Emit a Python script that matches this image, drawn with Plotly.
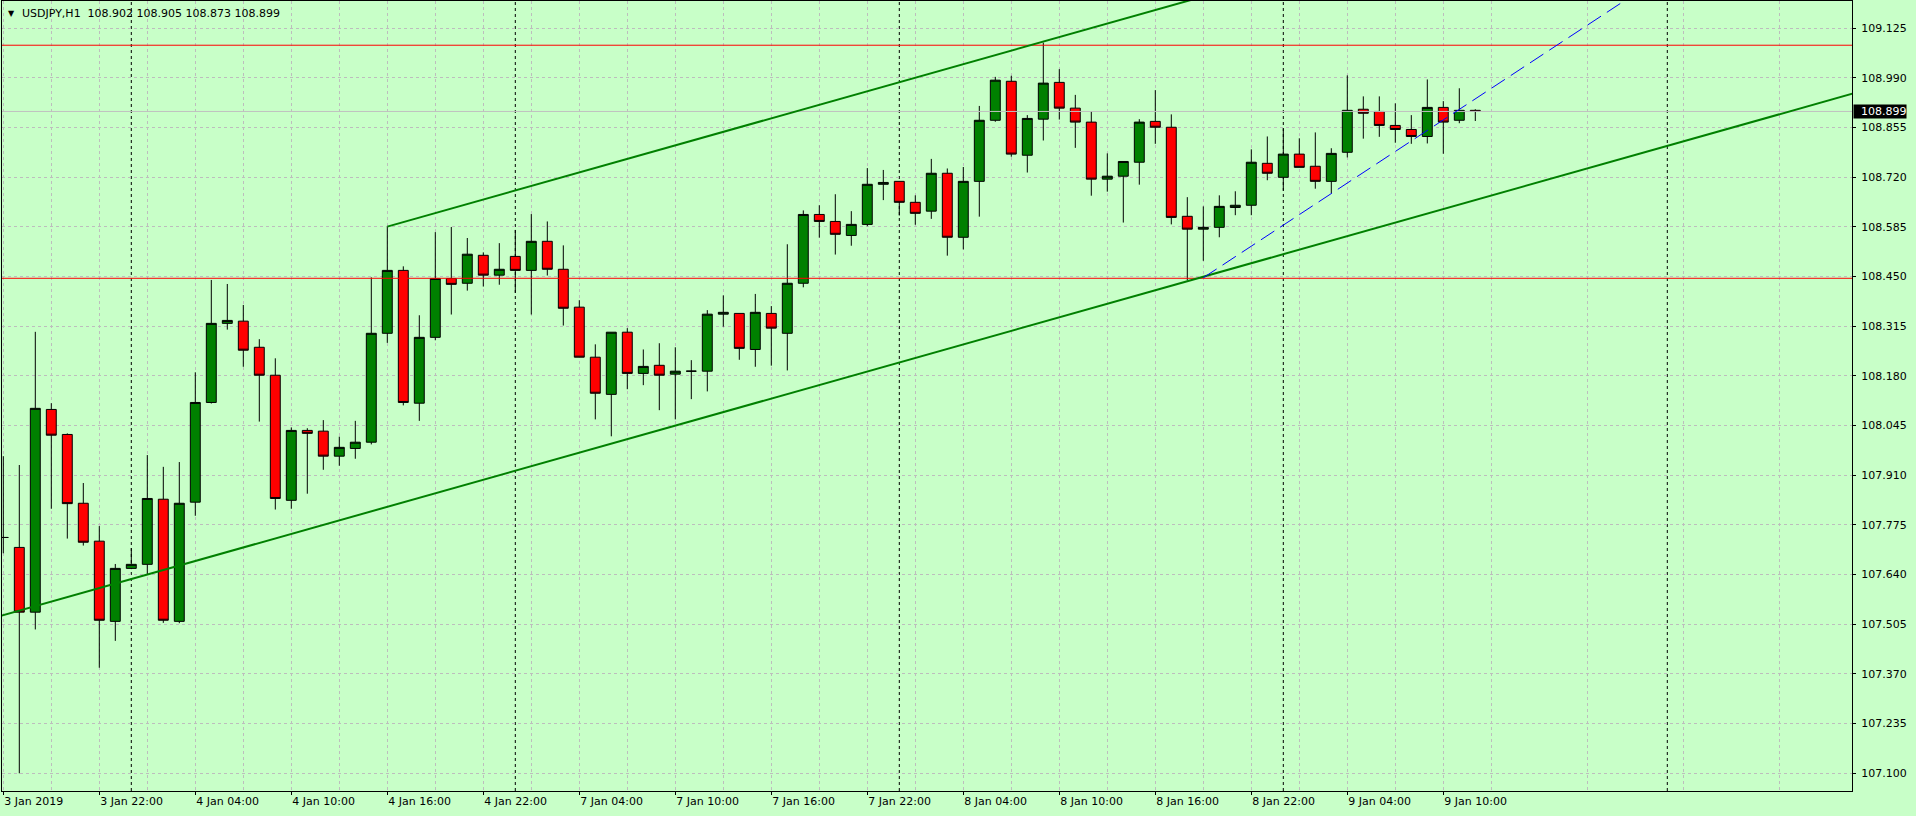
import plotly.graph_objects as go

# ---------------- data ----------------
SYMBOL = "USDJPY,H1"

BARS = list(range(93))  # hourly bars, bar 0 = 3 Jan 2019 16:00

OPEN = [107.741, 107.714, 107.538, 108.089, 108.021, 107.834, 107.731, 107.513, 107.657, 107.668,
        107.845, 107.513, 107.837, 108.108, 108.323, 108.329, 108.258, 108.182, 107.842, 108.032,
        108.030, 107.962, 107.983, 108.000, 108.296, 108.467, 108.106, 108.285, 108.445, 108.432,
        108.508, 108.454, 108.505, 108.467, 108.546, 108.470, 108.367, 108.231, 108.130, 108.299,
        108.187, 108.209, 108.185, 108.193, 108.193, 108.348, 108.350, 108.252, 108.350, 108.296,
        108.432, 108.619, 108.600, 108.562, 108.592, 108.701, 108.709, 108.652, 108.628, 108.731,
        108.557, 108.709, 108.875, 108.981, 108.780, 108.878, 108.978, 108.908, 108.870, 108.715,
        108.723, 108.761, 108.872, 108.856, 108.614, 108.579, 108.584, 108.638, 108.644, 108.758,
        108.720, 108.783, 108.750, 108.709, 108.788, 108.905, 108.899, 108.861, 108.850, 108.831,
        108.910, 108.875, 108.902]
HIGH = [107.962, 107.938, 108.300, 108.106, 108.024, 107.889, 107.772, 107.669, 107.712, 107.965,
        107.933, 107.946, 108.190, 108.441, 108.430, 108.373, 108.280, 108.228, 108.040, 108.038,
        108.060, 108.015, 108.058, 108.448, 108.586, 108.478, 108.345, 108.571, 108.585, 108.555,
        108.516, 108.541, 108.577, 108.620, 108.600, 108.535, 108.386, 108.266, 108.299, 108.310,
        108.252, 108.269, 108.258, 108.223, 108.359, 108.399, 108.350, 108.403, 108.370, 108.538,
        108.630, 108.644, 108.674, 108.628, 108.745, 108.740, 108.709, 108.671, 108.770, 108.744,
        108.748, 108.914, 108.993, 108.996, 108.889, 109.086, 109.014, 108.944, 108.900, 108.785,
        108.763, 108.878, 108.957, 108.891, 108.666, 108.641, 108.671, 108.682, 108.796, 108.831,
        108.853, 108.826, 108.842, 108.799, 108.997, 108.940, 108.940, 108.921, 108.889, 108.986,
        108.927, 108.962, 108.905]
LOW = [107.698, 107.100, 107.491, 107.819, 107.738, 107.719, 107.387, 107.460, 107.655, 107.639,
       107.509, 107.508, 107.800, 108.105, 108.306, 108.205, 108.056, 107.817, 107.819, 107.860,
       107.925, 107.936, 107.955, 107.994, 108.270, 108.100, 108.058, 108.277, 108.347, 108.412,
       108.423, 108.428, 108.406, 108.347, 108.453, 108.317, 108.231, 108.062, 108.016, 108.144,
       108.155, 108.087, 108.062, 108.117, 108.138, 108.314, 108.224, 108.205, 108.208, 108.195,
       108.421, 108.556, 108.510, 108.534, 108.587, 108.658, 108.616, 108.591, 108.607, 108.507,
       108.524, 108.613, 108.871, 108.776, 108.733, 108.820, 108.877, 108.800, 108.670, 108.681,
       108.597, 108.700, 108.811, 108.592, 108.440, 108.493, 108.557, 108.617, 108.617, 108.712,
       108.684, 108.747, 108.689, 108.677, 108.774, 108.825, 108.830, 108.814, 108.811, 108.812,
       108.784, 108.867, 108.873]
CLOSE = [107.741, 107.538, 108.092, 108.019, 107.833, 107.728, 107.516, 107.657, 107.668, 107.847,
         107.516, 107.834, 108.108, 108.323, 108.331, 108.250, 108.182, 107.847, 108.032, 108.024,
         107.962, 107.986, 108.000, 108.296, 108.467, 108.108, 108.285, 108.445, 108.429, 108.511,
         108.454, 108.470, 108.467, 108.546, 108.470, 108.364, 108.231, 108.133, 108.299, 108.187,
         108.206, 108.182, 108.193, 108.193, 108.348, 108.353, 108.255, 108.353, 108.310, 108.432,
         108.619, 108.600, 108.565, 108.592, 108.701, 108.706, 108.652, 108.622, 108.731, 108.557,
         108.709, 108.875, 108.984, 108.783, 108.880, 108.976, 108.908, 108.870, 108.715, 108.723,
         108.763, 108.870, 108.856, 108.611, 108.579, 108.584, 108.641, 108.644, 108.761, 108.731,
         108.783, 108.747, 108.709, 108.785, 108.902, 108.894, 108.861, 108.850, 108.831, 108.910,
         108.870, 108.902, 108.899]

TIME_TICK_BARS = [0, 6, 12, 18, 24, 30, 36, 42, 48, 54, 60, 66, 72, 78, 84, 90]
TIME_TICK_LABELS = ["3 Jan 2019", "3 Jan 22:00", "4 Jan 04:00", "4 Jan 10:00", "4 Jan 16:00",
                    "4 Jan 22:00", "7 Jan 04:00", "7 Jan 10:00", "7 Jan 16:00", "7 Jan 22:00",
                    "8 Jan 04:00", "8 Jan 10:00", "8 Jan 16:00", "8 Jan 22:00", "9 Jan 04:00",
                    "9 Jan 10:00"]
MINOR_GRID_BARS = [3, 9, 15, 21, 27, 33, 39, 45, 51, 57, 63, 69, 75, 81, 87, 93, 99, 105, 111]
DAY_SEPARATOR_BARS = [8, 32, 56, 80, 104]

PRICE_TICK_LABELS = ["107.100", "107.235", "107.370", "107.505", "107.640", "107.775", "107.910",
                     "108.045", "108.180", "108.315", "108.450", "108.585", "108.720", "108.855",
                     "108.990", "109.125"]

SUPPORT_LINE_X = [0, 76]          # lower channel line anchors (bar, price)
SUPPORT_LINE_Y = [107.530, 108.462]
CHANNEL_TOP_START = (24, 108.586)  # upper parallel line start
BLUE_LINE_X = [75, 90]
BLUE_LINE_Y = [108.447, 108.876]
RED_LEVELS = [109.079, 108.4455]
BID_PRICE = 108.899

X_RANGE = [-0.08125, 115.544]
Y_RANGE = [107.0519, 109.1992]

# ---------------- styles ----------------
BG = "#C8FFC8"
GRID = "#BDBDBD"
FONT = "DejaVu Sans"

fig = go.Figure()

fig.add_trace(go.Candlestick(
    x=BARS, open=OPEN, high=HIGH, low=LOW, close=CLOSE,
    increasing=dict(line=dict(color="black", width=1), fillcolor="#008000"),
    decreasing=dict(line=dict(color="black", width=1), fillcolor="#FF0000"),
    whiskerwidth=0, hoverinfo="skip", showlegend=False,
))

X_FAR_LEFT, X_FAR_RIGHT = -2, 120


def ray(xs, ys, x_start, x_end):
    slope = (ys[1] - ys[0]) / (xs[1] - xs[0])
    return [x_start, x_end], [ys[0] + slope * (x_start - xs[0]), ys[0] + slope * (x_end - xs[0])]


# horizontal levels
for lvl in RED_LEVELS:
    fig.add_trace(go.Scatter(x=[X_FAR_LEFT, X_FAR_RIGHT], y=[lvl, lvl], mode="lines",
                             line=dict(color="#FF0000", width=1), hoverinfo="skip", showlegend=False))
fig.add_trace(go.Scatter(x=[X_FAR_LEFT, X_FAR_RIGHT], y=[BID_PRICE, BID_PRICE], mode="lines",
                         line=dict(color="#C0C0C0", width=1), hoverinfo="skip", showlegend=False))

# lower channel line
lx, ly = ray(SUPPORT_LINE_X, SUPPORT_LINE_Y, X_FAR_LEFT, X_FAR_RIGHT)
fig.add_trace(go.Scatter(x=lx, y=ly, mode="lines", line=dict(color="#008000", width=2),
                         hoverinfo="skip", showlegend=False))
# upper parallel line
slope = (SUPPORT_LINE_Y[1] - SUPPORT_LINE_Y[0]) / (SUPPORT_LINE_X[1] - SUPPORT_LINE_X[0])
ux = [CHANNEL_TOP_START[0], X_FAR_RIGHT]
uy = [CHANNEL_TOP_START[1], CHANNEL_TOP_START[1] + slope * (X_FAR_RIGHT - CHANNEL_TOP_START[0])]
fig.add_trace(go.Scatter(x=ux, y=uy, mode="lines", line=dict(color="#008000", width=2),
                         hoverinfo="skip", showlegend=False))
# blue dashed trend line
bx, by = ray(BLUE_LINE_X, BLUE_LINE_Y, BLUE_LINE_X[0], X_FAR_RIGHT)
fig.add_trace(go.Scatter(x=bx, y=by, mode="lines", line=dict(color="#0000FF", width=1, dash="16px,7px"),
                         hoverinfo="skip", showlegend=False))

# day separators
shapes = []
for b in DAY_SEPARATOR_BARS:
    shapes.append(dict(type="line", xref="x", yref="paper", x0=b, x1=b, y0=0, y1=1,
                       line=dict(color="black", width=1, dash="3px,3px"), layer="between"))

annotations = [
    dict(xref="paper", yref="paper", x=0, y=1, xanchor="left", yanchor="top", xshift=4, yshift=-6,
         text="▼", showarrow=False, font=dict(family=FONT, size=8, color="black")),
    dict(xref="paper", yref="paper", x=0, y=1, xanchor="left", yanchor="top", xshift=18, yshift=-4,
         text=f"{SYMBOL}  {OPEN[-1]:.3f} {HIGH[-1]:.3f} {LOW[-1]:.3f} {CLOSE[-1]:.3f}",
         showarrow=False, font=dict(family=FONT, size=11, color="black")),
    dict(xref="paper", yref="y", x=1, y=BID_PRICE, xanchor="left", yanchor="middle", xshift=1,
         text="\u00a0\u00a0" + f"{BID_PRICE:.3f}", showarrow=False, bgcolor="black", borderpad=0,
         font=dict(family=FONT, size=11, color="white")),
]

fig.update_layout(
    width=1916, height=816, autosize=False,
    margin=dict(l=2, r=64, t=1, b=25, pad=0),
    paper_bgcolor=BG, plot_bgcolor=BG,
    showlegend=False, hovermode=False,
    boxgap=0.38, boxgroupgap=0,
    shapes=shapes, annotations=annotations,
    xaxis=dict(
        range=X_RANGE, tickmode="array", tickvals=TIME_TICK_BARS, ticktext=TIME_TICK_LABELS,
        ticks="outside", ticklen=3, tickcolor="black", tickwidth=1,
        ticklabelposition="outside right",
        showline=True, linecolor="black", linewidth=1, mirror=True,
        showgrid=True, gridcolor=GRID, gridwidth=1, griddash="3px,3px",
        minor=dict(tickvals=MINOR_GRID_BARS, showgrid=True, gridcolor=GRID, gridwidth=1,
                   griddash="3px,3px", ticks=""),
        zeroline=False, rangeslider=dict(visible=False), fixedrange=True,
        tickfont=dict(family=FONT, size=11, color="black"),
    ),
    yaxis=dict(
        side="right", range=Y_RANGE, tickmode="array",
        tickvals=[float(t) for t in PRICE_TICK_LABELS], ticktext=PRICE_TICK_LABELS,
        ticks="outside", ticklen=3, tickcolor="black", tickwidth=1, ticklabelstandoff=3,
        showline=True, linecolor="black", linewidth=1, mirror=True,
        showgrid=True, gridcolor=GRID, gridwidth=1, griddash="3px,3px",
        zeroline=False, fixedrange=True,
        tickfont=dict(family=FONT, size=11, color="black"),
    ),
)

fig.write_html("out.html", config={"displayModeBar": False},
               post_script="document.body.style.margin='0px';document.body.style.overflow='hidden';")
